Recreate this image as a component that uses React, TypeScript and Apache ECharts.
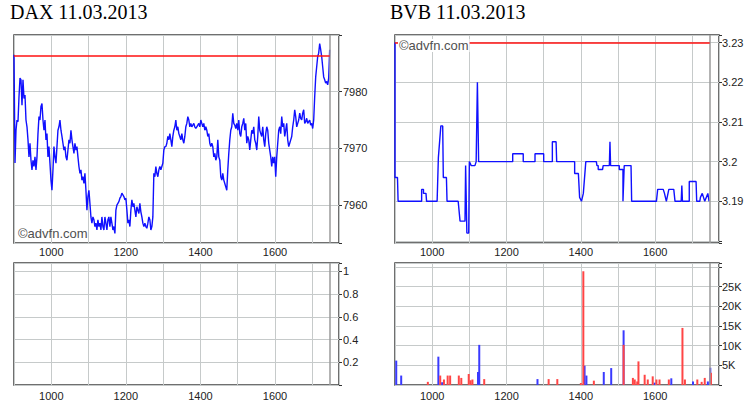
import React, { useEffect, useRef } from "react";
import * as echarts from "echarts";

// ---------- data ----------
const TITLES = ["DAX 11.03.2013", "BVB 11.03.2013"];
const WATERMARK = "©advfn.com";

// times are minutes since midnight
const SESSION_OPEN = 540; // 09:00
const SESSION_CLOSE = 1048; // ~17:28
const AXIS_MIN = 540;
const AXIS_MAX = 1063;
const HOUR_LABELS = [600, 720, 840, 960]; // 1000, 1200, 1400, 1600

// DAX intraday prices, regularly sampled from open to close
const DAX_PRICES = [
  7986.5, 7967.4, 7973.2, 7975.0, 7974.7, 7979.1, 7982.4, 7982.1, 7977.6, 7982.1, 7978.8, 7979.4,
  7975.0, 7973.8, 7971.5, 7968.5, 7970.9, 7967.9, 7966.2, 7967.9, 7966.8, 7968.5, 7966.2, 7968.5,
  7972.6, 7975.6, 7975.0, 7977.4, 7977.9, 7975.0, 7973.2, 7975.0, 7971.5, 7972.6, 7968.5, 7970.3,
  7967.4, 7964.4, 7962.6, 7966.2, 7970.3, 7968.5, 7967.4, 7970.3, 7973.2, 7973.8, 7975.0, 7973.2,
  7972.1, 7970.9, 7969.7, 7970.3, 7968.5, 7967.9, 7969.7, 7971.5, 7970.9, 7973.2, 7971.5, 7970.3,
  7969.1, 7970.9, 7969.7, 7970.3, 7968.5, 7966.8, 7965.6, 7966.2, 7964.4, 7965.0, 7963.8, 7965.6,
  7962.6, 7959.1, 7961.5, 7962.6, 7960.3, 7957.9, 7956.8, 7957.9, 7957.4, 7956.2, 7956.8, 7955.6,
  7957.4, 7956.2, 7956.8, 7955.6, 7957.9, 7956.2, 7955.6, 7957.9, 7956.8, 7955.6, 7957.4, 7957.9,
  7956.2, 7957.9, 7956.8, 7955.6, 7956.2, 7955.0,
  7959.1, 7960.0, 7960.3, 7960.6, 7961.2, 7961.5, 7962.1, 7961.8, 7961.5, 7960.9, 7961.2, 7959.1,
  7956.8, 7957.4, 7956.2, 7959.1, 7960.9, 7959.7, 7960.3, 7959.1, 7957.9, 7959.7, 7959.1, 7958.5,
  7960.3, 7958.8, 7957.9, 7956.8, 7956.2, 7956.8, 7956.2, 7955.9, 7956.8, 7957.9, 7957.4, 7955.6,
  7956.2, 7957.9,
  7965.6, 7965.0, 7966.8, 7965.6, 7965.0, 7966.2, 7966.8, 7966.2, 7966.8, 7967.4, 7969.7, 7970.3,
  7970.3, 7970.9, 7972.1, 7971.5, 7972.6, 7971.5, 7970.3, 7972.1, 7973.2, 7973.8, 7975.0, 7973.2,
  7973.8, 7972.6, 7972.1, 7971.5, 7972.6, 7971.5, 7970.9, 7972.1, 7973.8, 7974.4, 7975.6, 7975.0,
  7973.8, 7974.4, 7973.8, 7974.1, 7974.4, 7973.8, 7973.5, 7973.8, 7974.1, 7974.4, 7973.8, 7975.0,
  7974.4, 7973.8, 7974.4, 7973.2, 7973.8, 7973.2, 7972.1, 7972.6, 7970.9, 7970.3, 7970.9, 7970.3,
  7968.5, 7969.1, 7967.9, 7968.5, 7971.5, 7968.5, 7967.9, 7965.0, 7964.4, 7965.6, 7964.4, 7963.8,
  7963.2, 7962.6,
  7966.2, 7969.1, 7971.5, 7973.2, 7973.8, 7976.2, 7974.4, 7974.1, 7973.5, 7974.4, 7973.2, 7975.0,
  7972.6, 7972.1, 7973.8, 7974.4, 7975.3, 7973.2, 7974.4, 7970.9, 7972.1, 7971.5, 7969.7, 7971.5,
  7973.2, 7972.6, 7973.8, 7971.5, 7970.9, 7969.7, 7972.1, 7975.6, 7973.2, 7972.6, 7972.1, 7973.8,
  7971.5, 7970.3, 7972.6, 7973.8, 7973.2, 7970.9, 7969.7, 7968.5, 7966.8, 7968.5, 7967.4, 7968.5,
  7965.0, 7968.5, 7970.9, 7973.2, 7973.8, 7972.6, 7975.6, 7973.8, 7974.4, 7972.1, 7973.2, 7974.4,
  7971.5, 7970.3, 7970.9, 7971.5, 7972.1, 7973.8, 7975.0, 7976.8, 7975.6, 7973.8, 7974.4, 7975.0,
  7976.2, 7975.3, 7975.0, 7976.2, 7976.8, 7974.4, 7974.7, 7975.3, 7974.4, 7974.7, 7975.0, 7974.1,
  7974.4, 7973.5, 7975.0,
  7979.1, 7982.6, 7984.4, 7986.2, 7986.8, 7988.5, 7987.4, 7986.2, 7984.4, 7982.6, 7982.1, 7981.5,
  7981.8, 7981.2, 7982.4, 7987.4,
];
const DAX_PREV_CLOSE = 7986.3;
const DAX_Y_MIN = 7953.3;
const DAX_Y_MAX = 7990;
const DAX_Y_LABELS = [7960, 7970, 7980];

// BVB trades: [minute, price]
const BVB_TRADES: [number, number][] = [
  [540, 3.23], [540, 3.196], [544, 3.196], [545, 3.19], [583, 3.19], [583, 3.193], [586, 3.193],
  [586, 3.192], [590, 3.192], [591, 3.19], [608, 3.19], [610, 3.201], [614, 3.209], [617, 3.209],
  [618, 3.196], [623, 3.196], [624, 3.19], [642, 3.19], [645, 3.185], [653, 3.185], [654, 3.199],
  [656, 3.182], [659, 3.182], [660, 3.2], [663, 3.199], [669, 3.199], [671, 3.2], [673, 3.22],
  [675, 3.2], [730, 3.2], [730, 3.202], [747, 3.202], [747, 3.2], [766, 3.2], [766, 3.202],
  [780, 3.202], [780, 3.2], [794, 3.2], [794, 3.205], [800, 3.205], [801, 3.2], [830, 3.2],
  [830, 3.197], [836, 3.197], [838, 3.191], [841, 3.19], [844, 3.192], [848, 3.2], [865, 3.2],
  [866, 3.199], [868, 3.199], [868, 3.198], [875, 3.198], [876, 3.199], [886, 3.199], [887, 3.205],
  [888, 3.199], [902, 3.199], [902, 3.198], [908, 3.198], [908, 3.19], [910, 3.199], [921, 3.199],
  [922, 3.19], [962, 3.19], [964, 3.193], [973, 3.193], [975, 3.192], [978, 3.19], [982, 3.193],
  [990, 3.193], [992, 3.19], [1002, 3.19], [1003, 3.194], [1004, 3.19], [1015, 3.19], [1015, 3.195],
  [1026, 3.195], [1027, 3.19], [1032, 3.19], [1033, 3.191], [1036, 3.192], [1038, 3.191],
  [1040, 3.19], [1045, 3.192], [1047, 3.19],
];
const BVB_PREV_CLOSE = 3.23;
const BVB_Y_MIN = 3.1795;
const BVB_Y_MAX = 3.2319;
const BVB_Y_LABELS = [3.19, 3.2, 3.21, 3.22, 3.23];

// BVB volume: [minute, shares]
const BVB_VOL_BLUE: [number, number][] = [
  [542, 6200], [550, 2400], [610, 7200], [616, 700], [674, 3300], [676, 10200], [770, 1500],
  [846, 4900], [849, 2400], [877, 3300], [889, 4300], [909, 13900], [959, 600], [986, 1700],
  [1021, 900], [1045, 900], [1049, 4400],
];
const BVB_VOL_RED: [number, number][] = [
  [593, 800], [613, 2400], [619, 1400], [625, 2400], [629, 2400], [643, 2400], [647, 1800],
  [659, 2800], [662, 1200], [665, 1400], [684, 1500], [788, 1500], [802, 1500], [840, 500],
  [844, 28900], [861, 1100], [909, 10200], [924, 1800], [927, 1400], [931, 900], [933, 6000],
  [943, 2600], [948, 1400], [956, 2200], [962, 1400], [967, 1400], [982, 1400], [1004, 14500],
  [1008, 1400], [1028, 1400], [1035, 800], [1040, 1800], [1050, 3100],
];
const VOL_Y_MAX = 31000;
const VOL_Y_LABELS = [5000, 10000, 15000, 20000, 25000];
const EMPTY_Y_MAX = 1.074;
const EMPTY_Y_LABELS = [0.2, 0.4, 0.6, 0.8, 1];

// ---------- styling ----------
const SANS = "Liberation Sans";
const SERIF = "Liberation Serif";
const GRID_LINE = "#c6caca";
const BLUE = "#1010ff";
const RED = "#ff1010";

const grids = [
  { left: 14, top: 35, width: 325, height: 208 },
  { left: 14, top: 263, width: 325, height: 122 },
  { left: 395, top: 35, width: 324, height: 208 },
  { left: 395, top: 263, width: 324, height: 122 },
].map((g) => ({
  ...g,
  show: true,
  borderColor: "#404040",
  borderWidth: 1.5,
  backgroundColor: "#fff",
}));

const hourFmt = (v: number) => (HOUR_LABELS.includes(v) ? `${v / 60}00` : "");

function xAxis(gridIndex: number, margin: number) {
  return {
    type: "value",
    gridIndex,
    position: "bottom",
    min: AXIS_MIN,
    max: AXIS_MAX,
    interval: 60,
    axisLine: { show: false },
    axisTick: { show: false },
    splitLine: { show: true, lineStyle: { color: GRID_LINE, width: 1 } },
    axisLabel: {
      show: true,
      margin,
      color: "#222",
      fontSize: 11,
      fontFamily: SANS,
      formatter: hourFmt,
      showMinLabel: true,
      showMaxLabel: true,
      hideOverlap: false,
    },
  };
}

function yAxis(
  gridIndex: number,
  min: number,
  max: number,
  labels: number[],
  fmt: (v: number) => string,
  margin: number
) {
  return {
    type: "value",
    gridIndex,
    position: "right",
    min,
    max,
    scale: true,
    axisLine: { show: false },
    axisTick: { show: true, inside: false, length: 3, lineStyle: { color: "#333" } },
    splitLine: { show: true, lineStyle: { color: GRID_LINE, width: 1 } },
    axisLabel: {
      margin,
      color: "#222",
      fontSize: 11,
      fontFamily: SANS,
      showMinLabel: true,
      showMaxLabel: true,
      formatter: (v: number) => (labels.some((l) => Math.abs(l - v) < 1e-7) ? fmt(v) : ""),
    },
  };
}

const closeLine = {
  silent: true,
  symbol: "none",
  label: { show: false },
  lineStyle: { color: "#9a9a9a", width: 1.5, type: "solid" },
  data: [{ xAxis: SESSION_CLOSE }],
};

function prevCloseLine(level: number) {
  return {
    silent: true,
    symbol: "none",
    label: { show: false },
    lineStyle: { color: RED, width: 1.5, type: "solid" },
    data: [
      { xAxis: SESSION_CLOSE, lineStyle: { color: "#9a9a9a", width: 1.5, type: "solid" } },
      [
        { coord: [SESSION_OPEN, level] },
        { coord: [SESSION_CLOSE, level] },
      ],
    ],
  };
}

export default function App() {
  const ref = useRef<HTMLDivElement>(null);

  useEffect(() => {
    if (!ref.current) return;
    const chart = echarts.init(ref.current, undefined, { renderer: "svg" });
    const step = (SESSION_CLOSE - SESSION_OPEN) / (DAX_PRICES.length - 1);
    const daxData = DAX_PRICES.map((p, i) => [SESSION_OPEN + i * step, p]);

    const titleStyle = { fontFamily: SERIF, fontSize: 20, fontWeight: "normal", color: "#000" };
    const wmStyle = { fontFamily: SANS, fontSize: 13, fontWeight: "normal", color: "#505050" };

    chart.setOption({
      animation: false,
      backgroundColor: "#fff",
      title: [
        { text: TITLES[0], left: 10, top: 2, padding: 0, textStyle: titleStyle },
        { text: TITLES[1], left: 390, top: 2, padding: 0, textStyle: titleStyle },
        { text: WATERMARK, left: 18, top: 227, padding: 0, textStyle: wmStyle },
        {
          text: WATERMARK,
          left: 398,
          top: 39,
          padding: [0, 1],
          backgroundColor: "#fff",
          textStyle: wmStyle,
        },
      ],
      grid: grids,
      xAxis: [xAxis(0, 3), xAxis(1, 5), xAxis(2, 3), xAxis(3, 5)],
      yAxis: [
        yAxis(0, DAX_Y_MIN, DAX_Y_MAX, DAX_Y_LABELS, (v) => String(Math.round(v)), 4),
        yAxis(1, 0, EMPTY_Y_MAX, EMPTY_Y_LABELS, (v) => String(+v.toFixed(1)), 4),
        yAxis(2, BVB_Y_MIN, BVB_Y_MAX, BVB_Y_LABELS, (v) => String(+v.toFixed(2)), 3),
        yAxis(3, 0, VOL_Y_MAX, VOL_Y_LABELS, (v) => `${Math.round(v / 1000)}K`, 3),
      ],
      series: [
        {
          type: "line",
          xAxisIndex: 0,
          yAxisIndex: 0,
          data: daxData,
          showSymbol: false,
          lineStyle: { color: BLUE, width: 1.4 },
          itemStyle: { color: BLUE },
          markLine: prevCloseLine(DAX_PREV_CLOSE),
          z: 3,
        },
        {
          type: "line",
          xAxisIndex: 1,
          yAxisIndex: 1,
          data: [],
          showSymbol: false,
          markLine: closeLine,
        },
        {
          type: "line",
          xAxisIndex: 2,
          yAxisIndex: 2,
          data: BVB_TRADES,
          showSymbol: false,
          lineStyle: { color: BLUE, width: 1.4 },
          itemStyle: { color: BLUE },
          markLine: prevCloseLine(BVB_PREV_CLOSE),
          z: 3,
        },
        {
          type: "bar",
          xAxisIndex: 3,
          yAxisIndex: 3,
          data: BVB_VOL_BLUE,
          barWidth: 2,
          barGap: "-100%",
          itemStyle: { color: "#3a3aff" },
          markLine: closeLine,
        },
        {
          type: "bar",
          xAxisIndex: 3,
          yAxisIndex: 3,
          data: BVB_VOL_RED,
          barWidth: 2,
          barGap: "-100%",
          itemStyle: { color: "#ff4545" },
        },
      ],
    });
    return () => chart.dispose();
  }, []);

  return (
    <div
      ref={ref}
      style={{ position: "absolute", left: 0, top: 0, width: 749, height: 411, background: "#fff" }}
    />
  );
}
